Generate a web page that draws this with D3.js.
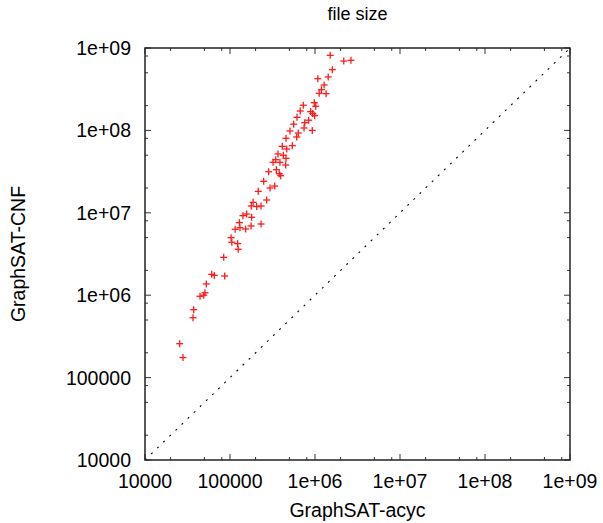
<html>
<head>
<script src='https://d3js.org/d3.v7.min.js'></script>
<style>
body {margin:0; background:white;}
svg text {font-family: "Liberation Sans", Arial, sans-serif; fill: black;}
</style>
</head>
<body>
<svg width=603 height=523></svg>
<script>
// GraphSAT-acyc file size (x) vs GraphSAT-CNF file size (y)
var acyc = [1.51e6, 2.18e6, 2.65e6, 1.60e6, 1.08e6, 1.43e6, 1.28e6, 1.19e6, 1.12e6, 1.35e6,
  9.81e5, 1.02e6, 7.28e5, 6.71e5, 8.90e5, 9.91e5, 6.14e5, 8.43e5, 7.57e5, 5.61e5,
  7.43e5, 9.29e5, 5.08e5, 6.36e5, 6.09e5, 4.56e5, 5.41e5, 4.12e5, 4.65e5, 3.67e5,
  4.24e5, 4.56e5, 3.45e5, 3.21e5, 3.87e5, 4.52e5, 3.51e5, 2.85e5, 3.80e5, 3.95e5,
  2.49e5, 3.36e5, 2.96e5, 2.15e5, 2.70e5, 1.87e5, 1.78e5, 2.32e5, 2.06e5, 1.57e5,
  1.42e5, 1.80e5, 1.29e5, 2.32e5, 1.77e5, 1.31e5, 1.53e5, 1.15e5, 1.03e5, 1.05e5,
  1.23e5, 1.25e5, 8.43e4, 6.09e4, 6.53e4, 8.66e4, 5.26e4, 5.08e4, 4.91e4, 4.44e4,
  3.74e4, 3.67e4, 2.56e4, 2.80e4, 9.4e5];
var cnf = [8.15e8, 6.95e8, 7.09e8, 5.45e8, 4.24e8, 4.45e8, 3.56e8, 3.12e8, 2.82e8, 2.79e8,
  2.17e8, 1.96e8, 2.02e8, 1.72e8, 1.69e8, 1.51e8, 1.44e8, 1.33e8, 1.24e8, 1.19e8,
  1.07e8, 1.00e8, 9.84e7, 9.30e7, 8.32e7, 8.02e7, 6.52e7, 6.41e7, 5.94e7, 5.18e7,
  4.99e7, 4.58e7, 4.41e7, 4.10e7, 4.10e7, 3.80e7, 3.34e7, 3.15e7, 2.98e7, 2.82e7,
  2.41e7, 2.11e7, 2.00e7, 1.82e7, 1.43e7, 1.34e7, 1.21e7, 1.21e7, 1.19e7, 9.67e6,
  9.23e6, 8.82e6, 7.59e6, 7.31e6, 6.92e6, 6.59e6, 6.36e6, 6.31e6, 4.99e6, 4.39e6,
  4.22e6, 3.61e6, 2.88e6, 1.79e6, 1.74e6, 1.71e6, 1.37e6, 1.07e6, 1.00e6, 9.70e5,
  6.67e5, 5.33e5, 2.58e5, 1.75e5, 1.60e8];
var majorTicks = [1e4, 1e5, 1e6, 1e7, 1e8, 1e9];
var minorSteps = [2, 5, 8];

var pl = 145, pr = 570, pt = 48, pb = 460;
var svg = d3.select("svg");
var x = d3.scaleLog().domain([1e4, 1e9]).range([pl, pr]);
var y = d3.scaleLog().domain([1e4, 1e9]).range([pb, pt]);

function fmt(v) {
  var e = Math.round(Math.log10(v));
  return e < 6 ? String(v) : "1e+0" + e;
}
var minorTicks = [];
majorTicks.slice(0, -1).forEach(function(m) {
  minorSteps.forEach(function(s) { minorTicks.push(m * s); });
});

// diagonal y = x
svg.append("line")
  .attr("x1", x(1e4)).attr("y1", y(1e4))
  .attr("x2", x(1e9)).attr("y2", y(1e9))
  .attr("stroke", "#000").attr("stroke-width", 1.1)
  .attr("stroke-dasharray", "2,6.5");

// ticks (inward, mirrored)
var tk = svg.append("g").attr("stroke", "#333").attr("stroke-width", 1);
function ticks(vals, len) {
  vals.forEach(function(v) {
    var px = x(v), py = y(v);
    tk.append("line").attr("x1", px).attr("x2", px).attr("y1", pb).attr("y2", pb - len);
    tk.append("line").attr("x1", px).attr("x2", px).attr("y1", pt).attr("y2", pt + len);
    tk.append("line").attr("y1", py).attr("y2", py).attr("x1", pl).attr("x2", pl + len);
    tk.append("line").attr("y1", py).attr("y2", py).attr("x1", pr).attr("x2", pr - len);
  });
}
ticks(majorTicks, 6);
ticks(minorTicks, 3);

// frame
svg.append("rect")
  .attr("x", pl).attr("y", pt)
  .attr("width", pr - pl).attr("height", pb - pt)
  .attr("fill", "none").attr("stroke", "#222").attr("stroke-width", 1.5);

// tick labels
svg.append("g").selectAll("text").data(majorTicks).enter().append("text")
  .attr("x", pl - 14).attr("y", function(d) { return y(d); })
  .attr("dy", "0.36em").attr("text-anchor", "end")
  .style("font-size", "19.5px").text(fmt);
svg.append("g").selectAll("text").data(majorTicks).enter().append("text")
  .attr("x", function(d) { return x(d); }).attr("y", pb + 28)
  .attr("text-anchor", "middle")
  .style("font-size", "19.5px").text(fmt);

// points
var pts = svg.append("g").attr("stroke", "#ff1a1a").attr("stroke-width", 1.3);
acyc.forEach(function(v, i) {
  var px = x(v), py = y(cnf[i]);
  pts.append("line").attr("x1", px - 3.5).attr("x2", px + 3.5).attr("y1", py).attr("y2", py);
  pts.append("line").attr("x1", px).attr("x2", px).attr("y1", py - 3.5).attr("y2", py + 3.5);
});

// titles
svg.append("text").attr("x", (pl + pr) / 2).attr("y", 20)
  .attr("text-anchor", "middle").style("font-size", "18px").text("file size");
svg.append("text").attr("x", (pl + pr) / 2).attr("y", 517)
  .attr("text-anchor", "middle").style("font-size", "19.5px").text("GraphSAT-acyc");
svg.append("text").attr("transform", "translate(25," + ((pt + pb) / 2) + ") rotate(-90)")
  .attr("text-anchor", "middle").style("font-size", "19.5px").text("GraphSAT-CNF");
</script>
</body>
</html>
